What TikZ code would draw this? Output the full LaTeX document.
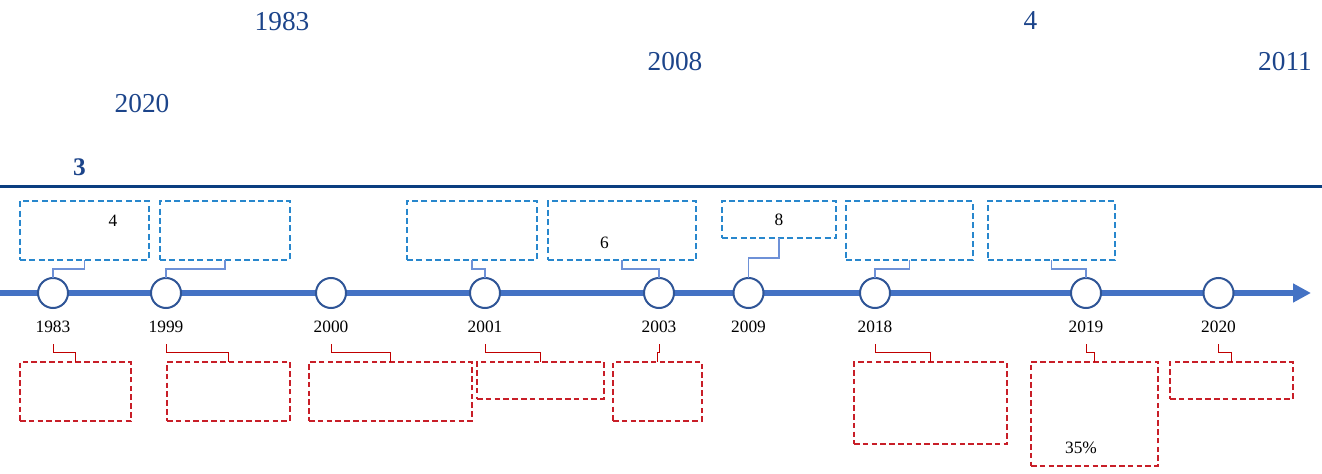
\documentclass[tikz,border=0pt]{standalone}
\usepackage{fontspec}
\setmainfont{Liberation Serif}
\usetikzlibrary{arrows.meta}
\definecolor{titleblue}{RGB}{28,68,138}
\definecolor{rulecol}{RGB}{10,62,128}
\definecolor{axiscol}{RGB}{68,114,196}
\definecolor{ringcol}{RGB}{47,85,151}
\definecolor{dashblue}{RGB}{40,135,205}
\definecolor{connblue}{RGB}{110,145,215}
\definecolor{dashred}{RGB}{200,30,40}
\definecolor{connred}{RGB}{192,0,0}
\begin{document}
\begin{tikzpicture}[x=0.75pt,y=-0.75pt,
  toptext/.style={text=titleblue, font=\fontsize{20.5}{24}\selectfont, inner sep=0pt},
  topbold/.style={text=titleblue, font=\fontsize{19}{23}\selectfont\bfseries, inner sep=0pt},
  bbox/.style 2 args={draw=dashblue, dash pattern=on 4.6pt off 2.4pt, line width=1.1pt,
     minimum width=#1*0.75pt, minimum height=#2*0.75pt, inner sep=0pt, outer sep=0pt,
     anchor=north west, font=\fontsize{13}{15}\selectfont},
  rbox/.style 2 args={draw=dashred, dash pattern=on 4.2pt off 2.4pt, line width=1.1pt,
     minimum width=#1*0.75pt, minimum height=#2*0.75pt, inner sep=0pt, outer sep=0pt,
     anchor=north west},
  ring/.style={circle, draw=ringcol, fill=white, line width=1.5pt, minimum size=22.5pt,
     inner sep=0pt, outer sep=0pt},
  yearlbl/.style={font=\fontsize{13}{15}\selectfont, inner sep=0pt},
  boxlbl/.style={font=\fontsize{13}{15}\selectfont, inner sep=0pt},
  bconn/.style={draw=connblue, line width=0.8pt},
  rconn/.style={draw=connred, line width=0.75pt},
  axis/.style={draw=axiscol, line width=4.5pt, -{Triangle[length=13.5pt,width=13.5pt]}},
  toprule/.style={draw=rulecol, line width=2.3pt}
]
\useasboundingbox (0,0) rectangle (1322,474);

% top texts
\node[toptext] (t1983) at (282,21.5) {1983};
\node[toptext] (t4) at (1030.5,21) {4};
\node[toptext] (t2008) at (675,62) {2008};
\node[toptext] (t2011) at (1285,61.5) {2011};
\node[toptext] (t2020) at (142,104) {2020};
\node[topbold] (t3) at (79.5,167) {3};

% top rule
\coordinate (ruleL) at (0,186.5);
\coordinate (ruleR) at (1322,186.5);
\draw[toprule] (ruleL) -- (ruleR);

% axis
\coordinate (axL) at (0,293);
\coordinate (axR) at (1311,293);
\draw[axis] (axL) -- (axR);

% circles
\node[ring] (c1) at (53,293) {};
\node[ring] (c2) at (166,293) {};
\node[ring] (c3) at (331,293) {};
\node[ring] (c4) at (485,293) {};
\node[ring] (c5) at (659,293) {};
\node[ring] (c6) at (748.5,293) {};
\node[ring] (c7) at (875,293) {};
\node[ring] (c8) at (1086,293) {};
\node[ring] (c9) at (1218.5,293) {};

% year labels
\node[yearlbl] (y1) at (53,326.5) {1983};
\node[yearlbl] (y2) at (166,326.5) {1999};
\node[yearlbl] (y3) at (331,326.5) {2000};
\node[yearlbl] (y4) at (485,326.5) {2001};
\node[yearlbl] (y5) at (659,326.5) {2003};
\node[yearlbl] (y6) at (748.5,326.5) {2009};
\node[yearlbl] (y7) at (875,326.5) {2018};
\node[yearlbl] (y8) at (1086,326.5) {2019};
\node[yearlbl] (y9) at (1218.5,326.5) {2020};

% blue boxes
\node[bbox={129}{59}] (b1) at (20,201) {};
\node[bbox={130}{59}] (b2) at (160,201) {};
\node[bbox={130}{59}] (b3) at (407,201) {};
\node[bbox={148}{59}] (b4) at (548,201) {};
\node[bbox={114}{37}] (b5) at (722,201) {8};
\node[bbox={127}{59}] (b6) at (846,201) {};
\node[bbox={127}{59}] (b7) at (988,201) {};
\node[boxlbl] (l4) at (113,220.3) {4};
\node[boxlbl] (l6) at (604.5,242.8) {6};

% blue connectors
\draw[bconn] (b1.south) -- ++(0,9) -| (c1.north);
\draw[bconn] (b2.south) -- ++(0,9) -| (c2.north);
\draw[bconn] (b3.south) -- ++(0,9) -| (c4.north);
\draw[bconn] (b4.south) -- ++(0,9) -| (c5.north);
\draw[bconn] (b5.south) -- ++(0,20) -| (c6.north);
\draw[bconn] (b6.south) -- ++(0,9) -| (c7.north);
\draw[bconn] (b7.south) -- ++(0,9) -| (c8.north);

% red boxes
\node[rbox={111}{59}] (r1) at (20,362) {};
\node[rbox={123}{59}] (r2) at (167,362) {};
\node[rbox={163}{59}] (r3) at (309,362) {};
\node[rbox={127}{37}] (r4) at (477,362) {};
\node[rbox={89}{59}] (r5) at (613,362) {};
\node[rbox={153}{82}] (r6) at (854,362) {};
\node[rbox={127}{104}] (r7) at (1031,362) {};
\node[rbox={123}{37}] (r8) at (1170,362) {};
\node[boxlbl] (l35) at (1081,448) {35\%};

% red connectors
\draw[rconn] (c1.south) ++(0,36) -- ++(0,8) -| (r1.north);
\draw[rconn] (c2.south) ++(0,36) -- ++(0,8) -| (r2.north);
\draw[rconn] (c3.south) ++(0,36) -- ++(0,8) -| (r3.north);
\draw[rconn] (c4.south) ++(0,36) -- ++(0,8) -| (r4.north);
\draw[rconn] (c5.south) ++(0,36) -- ++(0,8) -| (r5.north);
\draw[rconn] (c7.south) ++(0,36) -- ++(0,8) -| (r6.north);
\draw[rconn] (c8.south) ++(0,36) -- ++(0,8) -| (r7.north);
\draw[rconn] (c9.south) ++(0,36) -- ++(0,8) -| (r8.north);
\end{tikzpicture}
\end{document}
